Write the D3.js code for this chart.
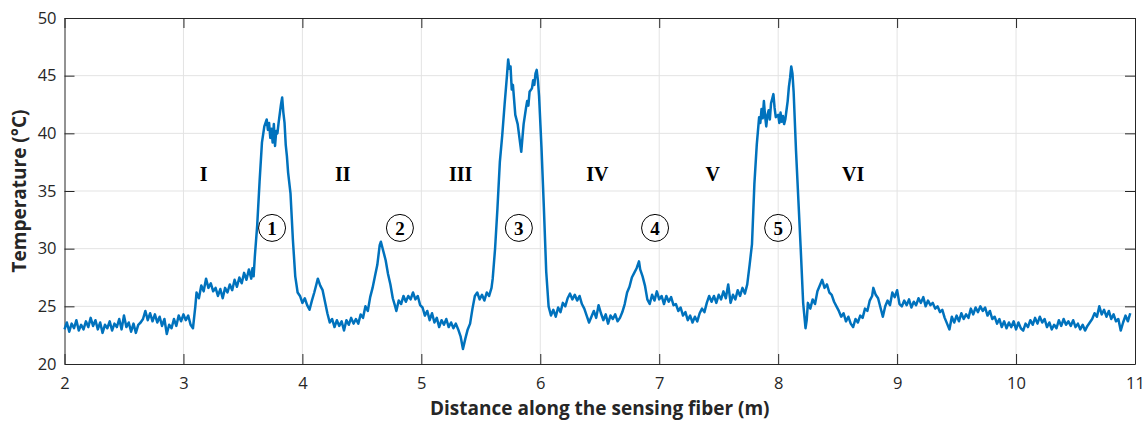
<!DOCTYPE html>
<html>
<head>
<meta charset="utf-8">
<script src="https://cdn.jsdelivr.net/npm/d3@7"></script>
<style>
  body { margin: 0; background: #fff; }
  svg { display: block; }
  .tick text { font-family: "Open Sans", sans-serif; font-size: 16.5px; fill: #262626; }
  .title { font-family: "Open Sans", sans-serif; font-size: 19px; font-weight: bold; fill: #262626; }
  .zone, .peak { font-family: "Liberation Serif", "Times New Roman", serif; font-weight: bold; fill: #000; }
</style>
</head>
<body>
<script>
// distance along fiber (m), temperature (°C)
const profile = [
  [2.00,23.0],[2.02,23.6],[2.04,22.8],[2.06,23.5],[2.08,23.1],[2.10,23.8],[2.12,22.9],[2.14,23.4],[2.16,23.0],[2.18,23.7],
  [2.20,23.2],[2.22,24.0],[2.24,23.3],[2.26,23.8],[2.28,23.0],[2.30,23.6],[2.32,22.7],[2.34,23.4],[2.36,23.1],[2.38,23.7],
  [2.40,22.9],[2.42,23.5],[2.44,23.2],[2.46,23.9],[2.48,23.0],[2.50,24.2],[2.52,23.2],[2.54,23.6],[2.56,22.8],[2.58,23.5],
  [2.60,22.7],[2.62,23.4],[2.64,23.6],[2.66,23.9],[2.68,24.6],[2.70,23.8],[2.72,24.4],[2.74,23.7],[2.76,24.3],[2.78,23.6],
  [2.80,24.1],[2.82,23.3],[2.84,23.9],[2.86,22.6],[2.88,23.4],[2.90,23.1],[2.92,23.9],[2.94,23.3],[2.96,24.2],[2.98,23.7],
  [3.00,24.3],[3.02,23.8],[3.04,24.2],[3.06,23.4],[3.08,23.1],[3.10,25.0],[3.11,26.2],[3.13,25.7],[3.15,26.8],[3.17,26.3],
  [3.19,27.4],[3.21,26.6],[3.23,27.0],[3.25,26.3],[3.27,26.6],[3.29,25.9],[3.31,26.5],[3.33,25.7],[3.35,26.6],[3.37,26.2],
  [3.39,26.9],[3.41,26.4],[3.43,27.3],[3.45,26.7],[3.47,27.5],[3.49,27.0],[3.51,27.9],[3.53,27.3],[3.55,28.2],[3.57,27.4],
  [3.58,28.3],[3.59,27.6],[3.60,29.3],[3.62,32.0],[3.64,35.8],[3.66,39.2],[3.68,40.6],[3.70,41.2],[3.71,40.3],[3.72,40.9],
  [3.73,39.6],[3.74,40.4],[3.75,39.2],[3.76,40.8],[3.77,38.9],[3.78,40.2],[3.79,40.0],[3.80,40.9],[3.82,42.5],[3.83,43.1],
  [3.84,41.8],[3.85,40.9],[3.86,39.0],[3.87,38.0],[3.88,36.6],[3.90,34.8],[3.92,30.8],[3.94,27.6],[3.96,26.2],[3.98,25.9],
  [4.00,25.3],[4.02,25.7],[4.04,25.1],[4.06,24.7],[4.08,25.5],[4.10,26.2],[4.12,27.0],[4.13,27.4],[4.15,26.8],[4.17,26.4],
  [4.19,25.4],[4.21,24.4],[4.23,23.6],[4.25,23.9],[4.27,23.2],[4.29,23.8],[4.31,23.3],[4.33,23.7],[4.35,22.9],[4.37,23.8],
  [4.39,23.4],[4.41,24.0],[4.43,23.5],[4.45,23.9],[4.47,23.5],[4.49,24.3],[4.51,24.0],[4.53,25.0],[4.55,24.6],[4.57,25.8],
  [4.59,26.6],[4.61,27.6],[4.63,28.6],[4.65,30.3],[4.66,30.6],[4.68,29.8],[4.70,29.0],[4.72,27.8],[4.74,26.9],[4.76,25.7],
  [4.78,25.0],[4.79,24.6],[4.81,25.5],[4.83,25.2],[4.85,25.9],[4.87,25.4],[4.89,25.9],[4.91,25.6],[4.93,26.2],[4.95,25.6],
  [4.97,25.9],[4.99,25.1],[5.01,24.9],[5.03,24.2],[5.05,24.6],[5.07,23.8],[5.09,24.4],[5.11,23.6],[5.13,24.0],[5.15,23.2],
  [5.17,23.8],[5.19,23.4],[5.21,23.9],[5.23,23.2],[5.25,23.6],[5.27,23.1],[5.29,23.5],[5.31,23.0],[5.33,22.4],[5.35,21.3],
  [5.37,22.2],[5.39,23.0],[5.41,23.5],[5.43,24.8],[5.45,25.9],[5.47,26.2],[5.49,25.6],[5.51,26.0],[5.53,25.5],[5.55,26.2],
  [5.57,25.9],[5.59,26.6],[5.60,27.4],[5.62,30.0],[5.64,33.5],[5.66,37.5],[5.68,39.8],[5.70,42.5],[5.72,45.0],[5.73,46.4],
  [5.74,45.6],[5.75,45.8],[5.76,43.8],[5.77,44.2],[5.79,41.6],[5.81,40.8],[5.82,40.0],[5.83,39.2],[5.84,38.4],[5.85,39.6],
  [5.86,40.8],[5.88,42.2],[5.89,42.8],[5.90,42.4],[5.91,43.6],[5.93,43.9],[5.94,44.6],[5.95,44.2],[5.96,45.2],[5.97,45.5],
  [5.98,44.6],[5.99,43.2],[6.01,38.8],[6.03,33.6],[6.05,28.0],[6.07,25.0],[6.09,24.2],[6.11,24.7],[6.13,24.1],[6.15,24.9],
  [6.17,24.5],[6.19,25.3],[6.21,25.0],[6.23,25.7],[6.25,26.1],[6.27,25.6],[6.29,26.0],[6.31,25.5],[6.33,25.9],[6.35,25.2],
  [6.37,24.8],[6.39,24.2],[6.41,23.6],[6.43,24.1],[6.45,24.6],[6.47,24.0],[6.49,25.1],[6.51,24.4],[6.53,23.8],[6.55,24.3],
  [6.57,23.5],[6.59,24.2],[6.61,23.9],[6.63,24.3],[6.65,23.7],[6.67,24.0],[6.69,24.5],[6.71,25.2],[6.73,26.2],[6.75,26.7],
  [6.77,27.5],[6.79,27.9],[6.81,28.3],[6.83,28.9],[6.84,28.2],[6.86,27.6],[6.88,26.8],[6.90,25.6],[6.92,25.2],[6.94,26.0],
  [6.96,25.5],[6.98,26.3],[7.00,25.6],[7.02,25.9],[7.04,25.2],[7.06,25.9],[7.08,25.4],[7.10,25.8],[7.12,25.1],[7.14,25.2],
  [7.16,24.6],[7.18,24.9],[7.20,24.2],[7.22,24.5],[7.24,23.8],[7.26,24.2],[7.28,23.6],[7.30,24.1],[7.32,23.7],[7.34,24.4],
  [7.36,24.8],[7.38,24.5],[7.40,25.3],[7.42,25.9],[7.44,25.4],[7.46,25.9],[7.48,25.3],[7.50,26.0],[7.52,25.6],[7.54,26.3],
  [7.56,25.7],[7.58,26.9],[7.60,25.3],[7.62,26.0],[7.64,25.6],[7.66,26.4],[7.68,25.9],[7.70,26.6],[7.72,26.1],[7.74,26.9],
  [7.76,28.6],[7.78,30.4],[7.80,35.6],[7.82,39.0],[7.84,41.4],[7.85,40.9],[7.86,42.1],[7.87,41.3],[7.88,42.8],[7.89,41.5],
  [7.90,40.6],[7.91,41.6],[7.92,42.0],[7.93,41.2],[7.94,42.6],[7.95,43.0],[7.96,43.4],[7.97,42.2],[7.98,41.4],[8.00,41.6],
  [8.01,40.9],[8.02,41.8],[8.03,41.0],[8.04,41.5],[8.05,40.8],[8.06,41.2],[8.07,42.0],[8.08,42.8],[8.09,44.0],[8.10,44.8],
  [8.11,45.8],[8.12,45.2],[8.13,43.6],[8.15,38.5],[8.17,34.2],[8.19,29.9],[8.21,25.3],[8.23,23.1],[8.24,23.8],[8.25,25.3],
  [8.27,24.8],[8.29,25.6],[8.31,25.2],[8.33,26.3],[8.35,26.8],[8.37,27.3],[8.39,26.6],[8.41,26.9],[8.43,26.2],[8.45,26.0],
  [8.47,25.4],[8.49,25.0],[8.51,24.6],[8.53,24.1],[8.55,24.4],[8.57,23.7],[8.59,24.1],[8.61,23.5],[8.63,23.2],[8.65,23.9],
  [8.67,23.6],[8.69,24.2],[8.71,24.0],[8.73,24.8],[8.75,24.6],[8.77,25.5],[8.79,25.9],[8.80,26.6],[8.82,26.0],[8.84,25.7],
  [8.86,24.9],[8.88,24.1],[8.90,25.0],[8.92,25.5],[8.94,25.1],[8.96,26.2],[8.98,25.8],[9.00,26.4],[9.02,25.2],[9.04,25.0],
  [9.06,25.5],[9.08,25.1],[9.10,25.6],[9.12,24.9],[9.14,25.4],[9.16,25.1],[9.18,25.7],[9.20,25.3],[9.22,25.8],[9.24,25.0],
  [9.26,25.5],[9.28,25.1],[9.30,25.3],[9.32,24.8],[9.34,25.0],[9.36,24.5],[9.38,24.7],[9.40,24.0],[9.42,23.5],[9.44,23.0],
  [9.46,24.1],[9.48,23.6],[9.50,24.2],[9.52,23.7],[9.54,24.4],[9.56,23.9],[9.58,24.3],[9.60,24.0],[9.62,24.8],[9.64,24.3],
  [9.66,24.9],[9.68,24.5],[9.70,25.0],[9.72,24.6],[9.74,24.9],[9.76,24.2],[9.78,24.6],[9.80,23.9],[9.82,24.1],[9.84,23.5],
  [9.86,23.9],[9.88,23.2],[9.90,23.7],[9.92,23.1],[9.94,23.6],[9.96,23.2],[9.98,23.7],[10.00,23.0],[10.02,23.6],[10.04,23.1],
  [10.06,22.9],[10.08,23.5],[10.10,23.2],[10.12,23.8],[10.14,23.4],[10.16,24.0],[10.18,23.5],[10.20,24.1],[10.22,23.6],[10.24,23.9],
  [10.26,23.2],[10.28,23.6],[10.30,23.0],[10.32,23.4],[10.34,23.1],[10.36,23.8],[10.38,23.3],[10.40,23.9],[10.42,23.4],[10.44,23.7],
  [10.46,23.3],[10.48,23.8],[10.50,23.2],[10.52,23.5],[10.54,23.0],[10.56,23.4],[10.58,22.9],[10.60,23.3],[10.62,23.6],[10.64,23.9],
  [10.66,24.4],[10.68,24.1],[10.70,25.0],[10.72,24.3],[10.74,24.7],[10.76,24.1],[10.78,24.6],[10.80,23.9],[10.82,24.3],[10.84,23.7],
  [10.86,23.9],[10.88,22.9],[10.90,23.6],[10.92,24.2],[10.94,23.7],[10.96,24.4]
];

const xTicks = [2, 3, 4, 5, 6, 7, 8, 9, 10, 11];
const yTicks = [20, 25, 30, 35, 40, 45, 50];

// zone labels and their anchor (distance, temperature)
const zoneNames = ['I', 'II', 'III', 'IV', 'V', 'VI'];
const zoneX = [3.17, 4.34, 5.33, 6.48, 7.45, 8.63];
const zoneY = 36.5;

const peakNames = ['1', '2', '3', '4', '5'];
const peakX = [3.745, 4.82, 5.82, 6.965, 8.0];
const peakY = 31.8;

const width = 1148, height = 423;
const margin = {left: 64.5, right: 13, top: 18, bottom: 59};
const w = width - margin.left - margin.right;
const h = height - margin.top - margin.bottom;

const x = d3.scaleLinear().domain([2, 11]).range([0, w]);
const y = d3.scaleLinear().domain([20, 50]).range([h, 0]);

const svg = d3.select('body').append('svg').attr('width', width).attr('height', height);
const g = svg.append('g').attr('transform', `translate(${margin.left},${margin.top})`);

// grid
g.append('g').selectAll('line').data(xTicks.slice(1, -1)).join('line')
  .attr('x1', d => x(d)).attr('x2', d => x(d)).attr('y1', 0).attr('y2', h)
  .attr('stroke', '#e3e3e3').attr('stroke-width', 1);
g.append('g').selectAll('line').data(yTicks.slice(1, -1)).join('line')
  .attr('y1', d => y(d)).attr('y2', d => y(d)).attr('x1', 0).attr('x2', w)
  .attr('stroke', '#e3e3e3').attr('stroke-width', 1);

const styleAxis = sel => {
  sel.select('.domain').attr('stroke', '#262626');
  sel.selectAll('.tick line').attr('stroke', '#262626');
};

g.append('g').attr('transform', `translate(0,${h})`)
  .call(d3.axisBottom(x).tickValues(xTicks).tickFormat(d3.format('d')).tickSizeInner(-10).tickSizeOuter(0).tickPadding(13))
  .call(styleAxis);
g.append('g')
  .call(d3.axisTop(x).tickValues(xTicks).tickFormat('').tickSizeInner(-10).tickSizeOuter(0))
  .call(styleAxis);
g.append('g')
  .call(d3.axisLeft(y).tickValues(yTicks).tickFormat(d3.format('d')).tickSizeInner(-10).tickSizeOuter(0).tickPadding(8))
  .call(styleAxis);
g.append('g').attr('transform', `translate(${w},0)`)
  .call(d3.axisRight(y).tickValues(yTicks).tickFormat('').tickSizeInner(-10).tickSizeOuter(0))
  .call(styleAxis);

const line = d3.line().x(d => x(d[0])).y(d => y(d[1]));
g.append('path').datum(profile).attr('d', line)
  .attr('fill', 'none').attr('stroke', '#0072bd').attr('stroke-width', 2.5).attr('stroke-linejoin', 'round');

g.selectAll('.zone').data(zoneNames).join('text')
  .attr('class', 'zone')
  .attr('x', (d, i) => x(zoneX[i])).attr('y', y(zoneY)).attr('dy', '0.35em')
  .attr('text-anchor', 'middle').attr('font-size', 20)
  .text(d => d);

const peaks = g.selectAll('.peakmark').data(peakNames).join('g')
  .attr('transform', (d, i) => `translate(${x(peakX[i])},${y(peakY)})`);
peaks.append('circle').attr('r', 13.5).attr('fill', 'none').attr('stroke', '#000').attr('stroke-width', 1);
peaks.append('text').attr('class', 'peak').attr('text-anchor', 'middle').attr('dy', '0.35em')
  .attr('font-size', 19).text(d => d);

svg.append('text').attr('class', 'title')
  .attr('transform', `translate(26,${margin.top + h / 2}) rotate(-90)`)
  .attr('text-anchor', 'middle').text('Temperature (°C)');
svg.append('text').attr('class', 'title')
  .attr('x', margin.left + w / 2).attr('y', 415)
  .attr('text-anchor', 'middle').text('Distance along the sensing fiber (m)');
</script>
</body>
</html>
